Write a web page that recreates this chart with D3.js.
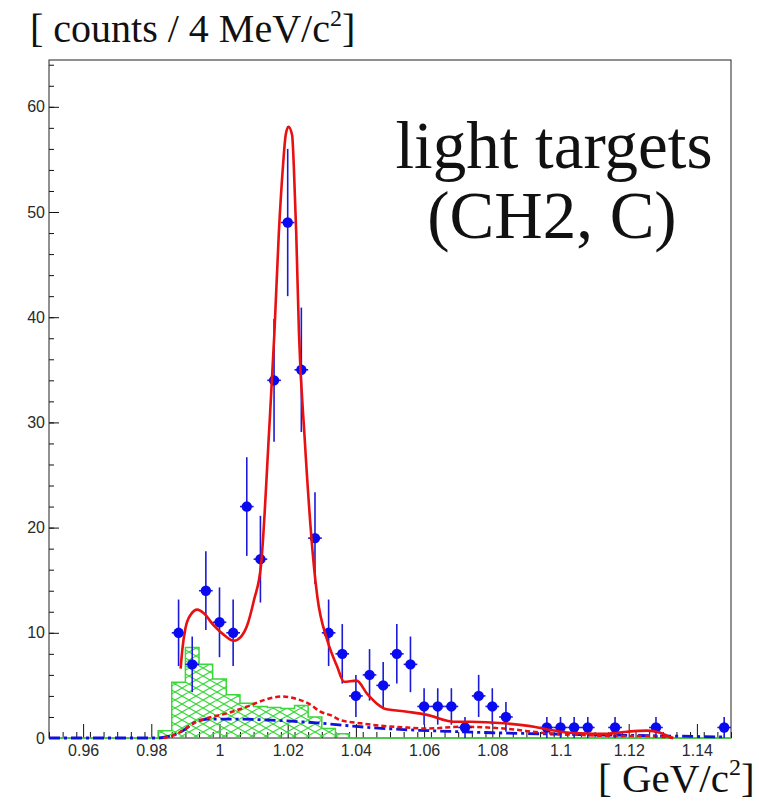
<!DOCTYPE html>
<html>
<head>
<meta charset="utf-8">
<script src="https://cdn.jsdelivr.net/npm/d3@7"></script>
<style>
  html, body { margin: 0; padding: 0; background: #fff; }
  svg { display: block; }
  .tick text { font-family: "Liberation Sans", Arial, sans-serif; font-size: 16px; fill: #2a2a2a; }
</style>
</head>
<body>
<svg id="chart" width="759" height="804"></svg>
<script>
// K+K- invariant mass, light targets (CH2, C): 4 MeV bins from 0.95 to 1.15 GeV/c^2
const massBins = [
  0.952, 0.956, 0.960, 0.964, 0.968, 0.972, 0.976, 0.980, 0.984, 0.988,
  0.992, 0.996, 1.000, 1.004, 1.008, 1.012, 1.016, 1.020, 1.024, 1.028,
  1.032, 1.036, 1.040, 1.044, 1.048, 1.052, 1.056, 1.060, 1.064, 1.068,
  1.072, 1.076, 1.080, 1.084, 1.088, 1.092, 1.096, 1.100, 1.104, 1.108,
  1.112, 1.116, 1.120, 1.124, 1.128, 1.132, 1.136, 1.140, 1.144, 1.148
];
const counts = [
  0, 0, 0, 0, 0, 0, 0, 0, 0, 10,
  7, 14, 11, 10, 22, 17, 34, 49, 35, 19,
  10, 8, 4, 6, 5, 8, 7, 3, 3, 3,
  1, 4, 3, 2, 0, 0, 1, 1, 1, 1,
  0, 1, 0, 0, 1, 0, 0, 0, 0, 1
];
const binHalfWidth = 0.002;

// Hatched background histogram (lower bin edges and contents)
const bgBinLow = [0.950, 0.982, 0.986, 0.990, 0.994, 0.998, 1.002, 1.006, 1.010, 1.014, 1.018, 1.022, 1.026, 1.030, 1.034, 1.038, 1.150];
const bgCounts = [0, 0.7, 5.3, 8.6, 7.0, 5.6, 4.1, 3.3, 3.0, 2.9, 2.8, 3.1, 2.0, 0.9, 0.4, 0, 0];

// Total fit (solid red)
const fitMass = [0.9886, 0.9891, 0.9900, 0.9915, 0.9935, 0.9954, 0.9983, 1.0013, 1.0042, 1.0062, 1.0081, 1.0101, 1.0122,
  1.0145, 1.0161, 1.0174, 1.0186, 1.0194, 1.0202, 1.0213, 1.0218, 1.0225, 1.0233, 1.0249, 1.0277, 1.0287, 1.0316,
  1.0345, 1.0365, 1.0402, 1.0433, 1.0472, 1.0482, 1.0550, 1.0609, 1.0687, 1.0736, 1.0834, 1.0922, 1.0971, 1.1000,
  1.1059, 1.1137, 1.1196, 1.1254, 1.1293, 1.1313, 1.1331];
const fitTotal = [6.6, 8.4, 10.4, 11.7, 12.2, 11.85, 10.7, 9.8, 9.25, 9.6, 10.7, 13.1, 16.5,
  28.9, 38.5, 48.0, 54.3, 57.3, 58.1, 57.3, 54.3, 48.0, 38.5, 28.9, 16.3, 13.4, 9.3,
  6.8, 5.35, 5.45, 4.2, 3.0, 2.8, 2.5, 2.2, 1.55, 1.55, 1.4, 1.07, 0.76, 0.6,
  0.45, 0.4, 0.6, 0.7, 0.5, 0.2, 0.0];

// Fit component (dashed red)
const compMass = [0.9835, 0.9870, 0.9900, 0.9930, 0.9965, 1.0023, 1.0082, 1.0140, 1.0185, 1.0237, 1.0263, 1.0296,
  1.0331, 1.0354, 1.0413, 1.0472, 1.0550, 1.0609, 1.0707, 1.0834, 1.0962, 1.1050, 1.1150, 1.1250, 1.1330];
const compA = [0, 0.3, 0.9, 1.5, 1.9, 2.35, 3.0, 3.7, 3.95, 3.6, 3.25, 2.5,
  2.1, 1.7, 1.4, 1.17, 1.0, 0.9, 1.07, 0.9, 0.45, 0.3, 0.2, 0.2, 0.0];

// Fit component (dash-dotted blue)
const compBMass = [0.950, 0.982, 0.985, 0.9875, 0.990, 0.992, 0.994, 0.9965, 1.005, 1.015, 1.020, 1.030, 1.040,
  1.054, 1.070, 1.080, 1.094, 1.110, 1.130, 1.148];
const compB = [0, 0, 0.15, 0.4, 0.85, 1.35, 1.65, 1.8, 1.8, 1.7, 1.62, 1.4, 1.1,
  0.8, 0.6, 0.5, 0.4, 0.3, 0.2, 0.1];

const xMajor = [0.96, 0.98, 1.00, 1.02, 1.04, 1.06, 1.08, 1.10, 1.12, 1.14];
const yMajor = [0, 10, 20, 30, 40, 50, 60];

const svg = d3.select("#chart");
const frame = { left: 49, right: 731, top: 60, bottom: 738 };

const x = d3.scaleLinear().domain([0.95, 1.15]).range([frame.left, frame.right]);
const y = d3.scaleLinear().domain([0, 64.45]).range([frame.bottom, frame.top]);

// hatch pattern for the background histogram
const defs = svg.append("defs");
const pat = defs.append("pattern")
  .attr("id", "hatch").attr("patternUnits", "userSpaceOnUse")
  .attr("width", 14).attr("height", 8);
pat.append("path").attr("d", "M0,0 L14,8 M0,8 L14,0 M-7,4 L0,8 M14,0 L21,4 M-7,4 L0,0 M14,8 L21,4")
  .attr("stroke", "#3ad83a").attr("stroke-width", 1.1).attr("fill", "none");

// axes
const xMinor = d3.range(0, 51).map(i => +(0.95 + i * 0.004).toFixed(3));
svg.append("g").attr("transform", `translate(0,${frame.bottom})`)
  .call(d3.axisBottom(x).tickValues(xMinor).tickSize(-6).tickFormat(""))
  .call(g => g.select(".domain").remove())
  .call(g => g.selectAll("line").attr("stroke", "#111"));
svg.append("g").attr("transform", `translate(0,${frame.bottom})`)
  .call(d3.axisBottom(x).tickValues(xMajor).tickSize(-14).tickPadding(7).tickFormat(d => d3.format("")(+d.toFixed(2))))
  .call(g => g.select(".domain").remove())
  .call(g => g.selectAll("line").attr("stroke", "#111"));

const yMinor = d3.range(0, 33).map(i => i * 2);
svg.append("g").attr("transform", `translate(${frame.left},0)`)
  .call(d3.axisLeft(y).tickValues(yMinor).tickSize(-5).tickFormat(""))
  .call(g => g.select(".domain").remove())
  .call(g => g.selectAll("line").attr("stroke", "#111"));
svg.append("g").attr("transform", `translate(${frame.left},0)`)
  .call(d3.axisLeft(y).tickValues(yMajor).tickSize(-10).tickPadding(4))
  .call(g => g.select(".domain").remove())
  .call(g => g.selectAll("line").attr("stroke", "#111"));

svg.append("rect")
  .attr("x", frame.left).attr("y", frame.top)
  .attr("width", frame.right - frame.left).attr("height", frame.bottom - frame.top)
  .attr("fill", "none").attr("stroke", "#222").attr("stroke-width", 1);

// background histogram
const bg = bgBinLow.map((m, i) => [m, bgCounts[i]]);
svg.append("path").datum(bg)
  .attr("d", d3.area().curve(d3.curveStepAfter).x(d => x(d[0])).y0(y(0)).y1(d => y(d[1])))
  .attr("fill", "url(#hatch)");
svg.append("path").datum(bg)
  .attr("d", d3.line().curve(d3.curveStepAfter).x(d => x(d[0])).y(d => y(d[1])))
  .attr("fill", "none").attr("stroke", "#3ad83a").attr("stroke-width", 1.5);

const line = d3.line().curve(d3.curveMonotoneX).x(d => x(d[0])).y(d => y(d[1]));

// blue dash-dotted component
svg.append("path").datum(compBMass.map((m, i) => [m, compB[i]]))
  .attr("d", line).attr("fill", "none")
  .attr("stroke", "#1010e0").attr("stroke-width", 2.8)
  .attr("stroke-dasharray", "11,4,3,4");

// red dashed component
svg.append("path").datum(compMass.map((m, i) => [m, compA[i]]))
  .attr("d", line).attr("fill", "none")
  .attr("stroke", "#e81010").attr("stroke-width", 2.5)
  .attr("stroke-dasharray", "5,3");

// data points with statistical errors
const pts = massBins.map((m, i) => ({ m, c: counts[i] })).filter(d => d.c > 0);
const pg = svg.append("g");
pg.selectAll("line.v").data(pts).join("line").attr("class", "v")
  .attr("x1", d => x(d.m)).attr("x2", d => x(d.m))
  .attr("y1", d => y(d.c - Math.sqrt(d.c))).attr("y2", d => y(d.c + Math.sqrt(d.c)))
  .attr("stroke", "#1a1ad8").attr("stroke-width", 1.6);
pg.selectAll("line.h").data(pts).join("line").attr("class", "h")
  .attr("x1", d => x(d.m - binHalfWidth)).attr("x2", d => x(d.m + binHalfWidth))
  .attr("y1", d => y(d.c)).attr("y2", d => y(d.c))
  .attr("stroke", "#1a1ad8").attr("stroke-width", 1.6);
pg.selectAll("circle").data(pts).join("circle")
  .attr("cx", d => x(d.m)).attr("cy", d => y(d.c)).attr("r", 5.2)
  .attr("fill", "#0a0af0");

// total fit
svg.append("path").datum(fitMass.map((m, i) => [m, fitTotal[i]]))
  .attr("d", line).attr("fill", "none")
  .attr("stroke", "#e81010").attr("stroke-width", 2.6);

// labels
const serif = '"Liberation Serif", "Times New Roman", serif';
const yt = svg.append("text").attr("x", 30).attr("y", 42)
  .attr("font-family", serif).attr("font-size", 40).attr("fill", "#111");
yt.append("tspan").text("[ counts / 4 MeV/c");
yt.append("tspan").attr("font-size", 24).attr("dy", -16).text("2");
yt.append("tspan").attr("dy", 16).text("]");

const xt = svg.append("text").attr("x", 598).attr("y", 792)
  .attr("font-family", serif).attr("font-size", 41).attr("fill", "#111");
xt.append("tspan").text("[ GeV/c");
xt.append("tspan").attr("font-size", 24).attr("dy", -17).text("2");
xt.append("tspan").attr("dy", 17).text("]");

svg.append("text").attr("x", 554).attr("y", 168).attr("text-anchor", "middle")
  .attr("font-family", serif).attr("font-size", 67).attr("fill", "#111")
  .text("light targets");
svg.append("text").attr("x", 552).attr("y", 238).attr("text-anchor", "middle")
  .attr("font-family", serif).attr("font-size", 67).attr("fill", "#111")
  .text("(CH2, C)");
</script>
</body>
</html>
